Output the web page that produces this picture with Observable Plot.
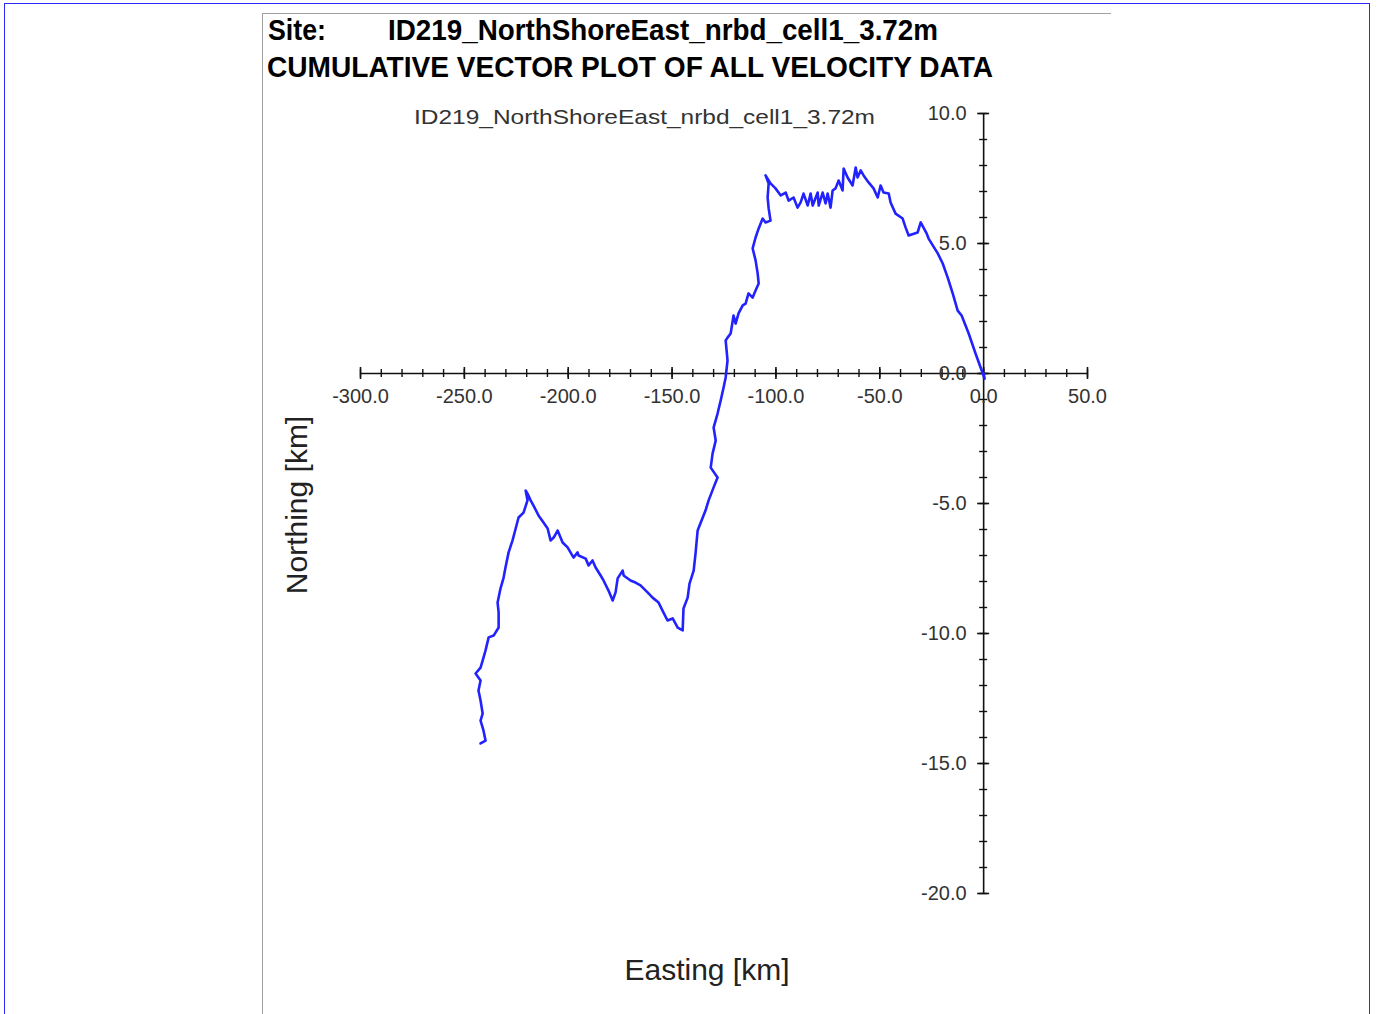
<!DOCTYPE html>
<html>
<head>
<meta charset="utf-8">
<script src="https://cdn.jsdelivr.net/npm/d3@7"></script>
<script src="https://cdn.jsdelivr.net/npm/@observablehq/plot@0.6"></script>
<style>
  html, body { margin: 0; padding: 0; background: #fff; }
  #page { position: relative; width: 1378px; height: 1014px; overflow: hidden; background: #fff;
          font-family: "Liberation Sans", Arial, sans-serif; }
  #outer { position: absolute; left: 4px; top: 3px; width: 1366px; height: 1030px; border: 1.5px solid #2a2aff; box-sizing: border-box; }
  #panel { position: absolute; left: 262px; top: 13px; width: 849px; height: 1010px; border-left: 1.5px solid #a0a0a0; border-top: 1.5px solid #a0a0a0; box-sizing: border-box; }
  #chart { position: absolute; left: 262px; top: 90px; }
  #overlay { position: absolute; left: 0; top: 0; }
</style>
</head>
<body>
<div id="page">
  <div id="outer"></div>
  <div id="panel"></div>
  <div id="chart"></div>
  <svg id="overlay" width="1378" height="1014"></svg>
</div>
<script>
// ---- Data ----
const siteName = "ID219_NorthShoreEast_nrbd_cell1_3.72m";
const chartTitle = "CUMULATIVE VECTOR PLOT OF ALL VELOCITY DATA";
const xAxisTitle = "Easting [km]";
const yAxisTitle = "Northing [km]";

// cumulative track, easting [km]
const easting = [
  0, 0.5, -3.9, -7.2, -10.6, -12.5, -14.9, -17.3, -19.7, -22.1, -26.5, -27.4, -30.3, -31.8, -36.1, -37.6,
  -39.0, -42.4, -44.8, -45.7, -48.2, -49.6, -51.0, -53.0, -55.4, -57.8, -59.2, -60.7, -61.6, -63.1, -65.5,
  -67.4, -67.9, -69.8, -71.3, -72.7, -73.7, -75.1, -76.1, -77.5, -79.4, -79.9, -82.3, -83.3, -84.7, -86.7,
  -88.1, -89.6, -91.5, -93.9, -95.3, -97.7, -100.2, -102.6, -105.0, -103.5, -104.0, -103.5, -102.6, -105.0,
  -106.4, -108.3, -109.8, -111.2, -109.8, -108.8, -108.3, -109.8, -111.2, -113.2, -114.6, -116.0, -118.0,
  -119.4, -120.4, -121.8, -123.3, -124.2, -123.3, -124.2, -125.2, -126.6, -128.1, -130.0, -129.0, -130.5,
  -131.4, -128.1, -130.0, -132.4, -133.9, -137.7, -138.7, -139.6, -141.6, -142.5, -144.5, -144.9, -147.3,
  -149.7, -152.2, -154.6, -156.5, -159.4, -161.8, -165.2, -167.6, -170.0, -173.3, -173.8, -176.2, -177.2,
  -178.6, -180.6, -183.0, -184.4, -186.8, -188.3, -190.2, -191.6, -195.0, -195.5, -197.4, -198.9, -200.3,
  -202.7, -205.1, -207.0, -208.5, -209.9, -211.9, -214.3, -216.7, -218.1, -219.6, -220.5, -219.6, -221.5,
  -223.9, -225.3, -226.8, -228.7, -230.2, -231.1, -232.6, -234.0, -233.5, -233.5, -235.9, -238.3, -239.8,
  -241.2, -242.2, -244.6, -242.2, -243.2, -242.2, -241.2, -242.2, -240.8, -239.8, -242.2
];
// cumulative track, northing [km]
const northing = [
  0, -0.2, 0.77, 1.54, 2.23, 2.42, 3.08, 3.69, 4.23, 4.62, 5.19, 5.38, 5.81, 5.42, 5.31, 5.62,
  5.96, 6.15, 6.58, 6.92, 6.96, 7.23, 6.77, 7.12, 7.35, 7.62, 7.81, 7.54, 7.92, 7.23, 7.54,
  7.88, 7.04, 7.42, 7.12, 7.04, 6.38, 6.92, 6.54, 6.96, 6.46, 6.96, 6.46, 6.92, 6.46, 6.92,
  6.58, 6.38, 6.77, 6.65, 6.96, 6.85, 7.12, 7.31, 7.62, 7.31, 6.77, 6.35, 5.88, 5.81,
  5.96, 5.58, 5.23, 4.81, 4.35, 3.85, 3.46, 3.19, 2.92, 3.08, 2.69, 2.62, 2.31,
  1.92, 2.23, 1.54, 1.38, 1.27, 0.50, -0.15, -0.54, -1.04, -1.54, -2.08, -2.58, -3.08,
  -3.62, -4.00, -4.38, -4.88, -5.27, -6.04, -6.92, -7.58, -8.08, -8.62, -9.04, -9.88, -9.77,
  -9.42, -9.50, -9.12, -8.81, -8.62, -8.42, -8.15, -8.04, -7.96, -7.77, -7.58, -7.88, -8.42,
  -8.73, -8.35, -7.96, -7.77, -7.46, -7.19, -7.38, -7.12, -7.00, -6.88, -7.08, -6.88, -6.69,
  -6.50, -6.04, -6.31, -6.42, -5.96, -5.73, -5.46, -5.08, -4.88, -4.62, -4.50, -4.88, -5.35,
  -5.54, -5.96, -6.42, -6.88, -7.46, -7.85, -8.27, -8.81, -9.19, -9.77, -10.08, -10.15, -10.65,
  -11.04, -11.31, -11.54, -11.81, -12.19, -12.58, -13.08, -13.35, -13.73, -14.12, -14.23
];

// axis ticks
const xMajorTicks = [-300, -250, -200, -150, -100, -50, 0, 50];
const xTickLabels = ["-300.0", "-250.0", "-200.0", "-150.0", "-100.0", "-50.0", "0.0", "50.0"];
const xMinorTicks = d3.range(-300, 51, 10);
const yMajorTicks = [10, 5, 0, -5, -10, -15, -20];
const yTickLabels = ["10.0", "5.0", "0.0", "-5.0", "-10.0", "-15.0", "-20.0"];
const yMinorTicks = d3.range(-20, 11, 1);

// ---- Build chart ----
const track = easting.map((e, i) => ({e, n: northing[i]}));
const axisColor = "#111";
const labelColor = "#333";

const chart = Plot.plot({
  width: 848,
  height: 924,
  marginLeft: 98,
  marginRight: 23,
  marginTop: 23,
  marginBottom: 121,
  x: {domain: [-300, 50], axis: null},
  y: {domain: [-20, 10], axis: null},
  style: {background: "transparent", fontFamily: "'Liberation Sans', Arial, sans-serif", overflow: "visible"},
  marks: [
    Plot.ruleY([0], {x1: -300, x2: 50, stroke: axisColor, strokeWidth: 1.6}),
    Plot.ruleX([0], {y1: -20, y2: 10, stroke: axisColor, strokeWidth: 1.6}),
    Plot.ruleX(xMinorTicks, {x: d => d, y1: 0, y2: 0, insetTop: 4, insetBottom: 4, stroke: axisColor, strokeWidth: 1.4}),
    Plot.ruleX(xMajorTicks, {x: d => d, y1: 0, y2: 0, insetTop: 6, insetBottom: 6, stroke: axisColor, strokeWidth: 1.6}),
    Plot.ruleY(yMinorTicks, {y: d => d, x1: 0, x2: 0, insetLeft: 4, insetRight: 4, stroke: axisColor, strokeWidth: 1.4}),
    Plot.ruleY(yMajorTicks, {y: d => d, x1: 0, x2: 0, insetLeft: 6, insetRight: 6, stroke: axisColor, strokeWidth: 1.6}),
    Plot.text(xMajorTicks, {x: d => d, y: 0, text: (d, i) => xTickLabels[i], dy: 23, fontSize: 20, fill: labelColor}),
    Plot.text(yMajorTicks, {x: 0, y: d => d, text: (d, i) => yTickLabels[i], textAnchor: "end", dx: -17, fontSize: 20, fill: labelColor}),
    Plot.line(track, {x: "e", y: "n", stroke: "#2222ff", strokeWidth: 2.6, strokeLinejoin: "round", strokeLinecap: "round"})
  ]
});
document.getElementById("chart").appendChild(chart);

// ---- Titles and axis labels ----
const ov = d3.select("#overlay");
const ff = "'Liberation Sans', Arial, sans-serif";
ov.append("text").attr("x", 268).attr("y", 40).attr("font-family", ff).attr("font-weight", "bold")
  .attr("font-size", 29).attr("fill", "#000").attr("textLength", 58).attr("lengthAdjust", "spacingAndGlyphs").text("Site:");
ov.append("text").attr("x", 388).attr("y", 40).attr("font-family", ff).attr("font-weight", "bold")
  .attr("font-size", 29).attr("fill", "#000").attr("textLength", 550).attr("lengthAdjust", "spacingAndGlyphs").text(siteName);
ov.append("text").attr("x", 267).attr("y", 77).attr("font-family", ff).attr("font-weight", "bold")
  .attr("font-size", 29).attr("fill", "#000").attr("textLength", 726).attr("lengthAdjust", "spacingAndGlyphs").text(chartTitle);
ov.append("text").attr("x", 414).attr("y", 124).attr("font-family", ff)
  .attr("font-size", 21).attr("fill", "#333").attr("textLength", 461).attr("lengthAdjust", "spacingAndGlyphs").text(siteName);
ov.append("text").attr("x", 707).attr("y", 980).attr("font-family", ff).attr("text-anchor", "middle")
  .attr("font-size", 30).attr("fill", "#222").text(xAxisTitle);
ov.append("text").attr("transform", "translate(307,505) rotate(-90)").attr("font-family", ff).attr("text-anchor", "middle")
  .attr("font-size", 30).attr("fill", "#222").text(yAxisTitle);
</script>
</body>
</html>
